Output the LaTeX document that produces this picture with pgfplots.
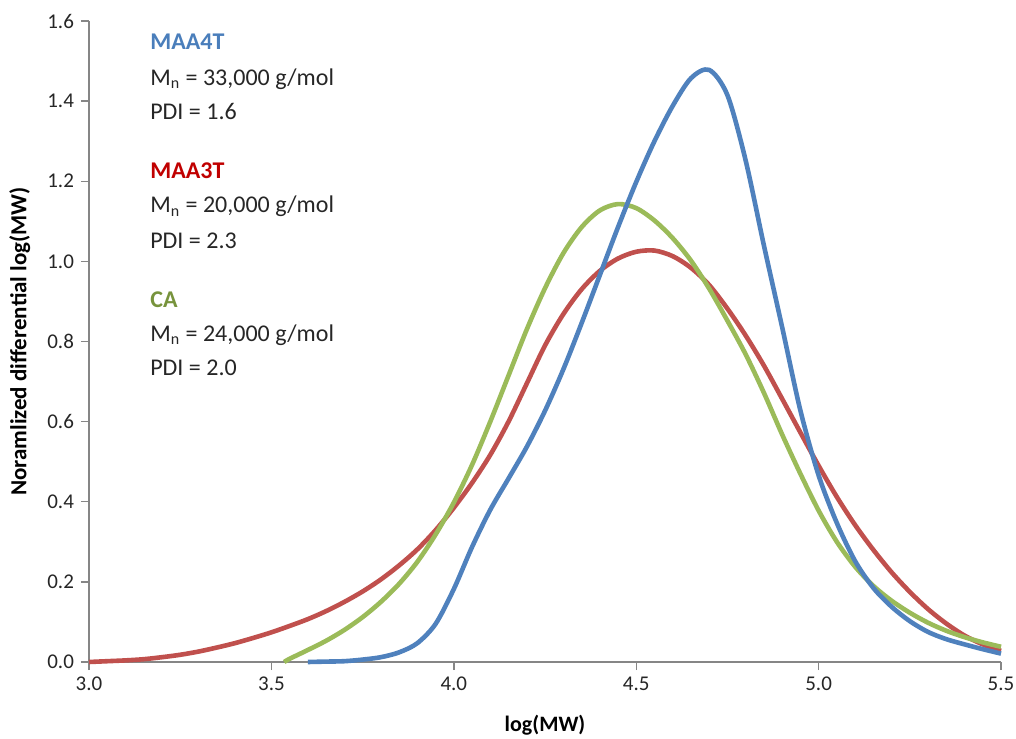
\documentclass[border=0pt]{standalone}
\usepackage{pgfplots}
\pgfplotsset{compat=1.18}
\usepackage{fontspec}
\setmainfont{Carlito}
\definecolor{cblue}{HTML}{4F81BD}
\definecolor{cred}{HTML}{C0504D}
\definecolor{cgreen}{HTML}{9BBB59}
\definecolor{tblue}{HTML}{4A7EBB}
\definecolor{tred}{HTML}{C00000}
\definecolor{tgreen}{HTML}{77933C}
\definecolor{axisgray}{HTML}{868686}
\definecolor{txt}{HTML}{262626}
\begin{document}
\begin{tikzpicture}
\useasboundingbox (0,0) rectangle (508pt,369pt);
\begin{axis}[
  at={(44.5pt,38pt)}, anchor=south west,
  scale only axis, width=456pt, height=320.5pt,
  xmin=3, xmax=5.5, ymin=0, ymax=1.6,
  axis x line*=bottom, axis y line*=left,
  axis line style={-, draw=axisgray, line width=0.7pt},
  xtick={3,3.5,4,4.5,5,5.5},
  ytick={0,0.2,0.4,0.6,0.8,1,1.2,1.4,1.6},
  tick align=outside, major tick length=4pt,
  tick style={draw=axisgray, line width=0.7pt},
  ticklabel style={font=\fontsize{10.5}{12}\selectfont, text=txt},
  /pgf/number format/.cd, fixed, fixed zerofill, precision=1, assume math mode=true,
  /pgfplots/.cd,
  xlabel={log(MW)},
  ylabel={Noramlized differential log(MW)},
  xlabel style={font=\fontsize{11}{13}\selectfont\bfseries, at={(axis description cs:0.5,-0.098)}, anchor=center},
  ylabel style={font=\fontsize{11.5}{13}\selectfont\bfseries, at={(axis description cs:-0.0760,0.5)}, anchor=center, rotate=0},
  clip=false,
  every axis plot/.append style={line width=2.3pt, smooth, line join=round},
]
\addplot[cred] coordinates {
(3.00,0.000) (3.05,0.002) (3.10,0.004) (3.15,0.007) (3.20,0.012) (3.25,0.018)
(3.30,0.026) (3.35,0.036) (3.40,0.047) (3.45,0.060) (3.50,0.074) (3.55,0.090)
(3.60,0.107) (3.65,0.127) (3.70,0.150) (3.75,0.176) (3.80,0.206) (3.85,0.241)
(3.90,0.281) (3.95,0.329)
(4.00,0.385) (4.05,0.447) (4.10,0.517) (4.15,0.600) (4.20,0.695) (4.25,0.790)
(4.30,0.868) (4.35,0.930) (4.40,0.976) (4.45,1.007) (4.50,1.024) (4.55,1.027)
(4.60,1.013) (4.65,0.984) (4.70,0.941) (4.75,0.882) (4.80,0.815)
(4.85,0.740) (4.90,0.657) (4.95,0.573) (5.00,0.490) (5.05,0.412) (5.10,0.342)
(5.15,0.280) (5.20,0.224) (5.25,0.175) (5.30,0.132) (5.35,0.096) (5.40,0.066)
(5.45,0.044) (5.50,0.028)};
\addplot[cgreen] coordinates {
(3.535,0.000) (3.55,0.008) (3.60,0.030) (3.65,0.053) (3.70,0.080) (3.75,0.112)
(3.80,0.150) (3.85,0.195) (3.90,0.250) (3.95,0.318) (4.00,0.398) (4.05,0.492)
(4.10,0.600) (4.15,0.715) (4.20,0.830) (4.25,0.933) (4.30,1.020) (4.35,1.085)
(4.40,1.127) (4.45,1.143) (4.50,1.133) (4.55,1.102) (4.60,1.058) (4.65,1.002)
(4.70,0.932) (4.75,0.852) (4.80,0.768) (4.85,0.672) (4.90,0.568) (4.95,0.470)
(5.00,0.378) (5.05,0.300) (5.10,0.238) (5.15,0.190) (5.20,0.153) (5.25,0.123)
(5.30,0.098) (5.35,0.078) (5.40,0.062) (5.45,0.049) (5.50,0.038)};
\addplot[cblue] coordinates {
(3.60,0.000) (3.65,0.001) (3.70,0.002) (3.75,0.006) (3.80,0.012) (3.85,0.024) (3.90,0.047)
(3.95,0.095) (4.00,0.182) (4.05,0.287) (4.10,0.380) (4.15,0.458) (4.20,0.537)
(4.25,0.627) (4.30,0.730) (4.35,0.845) (4.40,0.965) (4.45,1.085) (4.50,1.198)
(4.55,1.300) (4.60,1.388) (4.65,1.457) (4.70,1.478)
(4.75,1.415) (4.80,1.252) (4.85,1.040) (4.90,0.836) (4.95,0.628)
(5.00,0.466) (5.05,0.347) (5.10,0.252) (5.15,0.185) (5.20,0.138) (5.25,0.102)
(5.30,0.075) (5.35,0.057) (5.40,0.044) (5.45,0.032) (5.50,0.021)};
\begin{scope}[every node/.style={anchor=base west, inner sep=0pt, font=\fontsize{12}{14}\selectfont, text=txt}]
\node[text=tblue, font=\fontsize{12}{14}\selectfont\bfseries] at (axis cs:3.167,1.528) {MAA4T};
\node at (axis cs:3.167,1.440) {M\textsubscript{n} = 33,000 g/mol};
\node at (axis cs:3.167,1.353) {PDI = 1.6};
\node[text=tred, font=\fontsize{12}{14}\selectfont\bfseries] at (axis cs:3.167,1.208) {MAA3T};
\node at (axis cs:3.167,1.121) {M\textsubscript{n} = 20,000 g/mol};
\node at (axis cs:3.167,1.033) {PDI = 2.3};
\node[text=tgreen, font=\fontsize{12}{14}\selectfont\bfseries] at (axis cs:3.167,0.886) {CA};
\node at (axis cs:3.167,0.801) {M\textsubscript{n} = 24,000 g/mol};
\node at (axis cs:3.167,0.716) {PDI = 2.0};
\end{scope}
\end{axis}
\end{tikzpicture}
\end{document}
